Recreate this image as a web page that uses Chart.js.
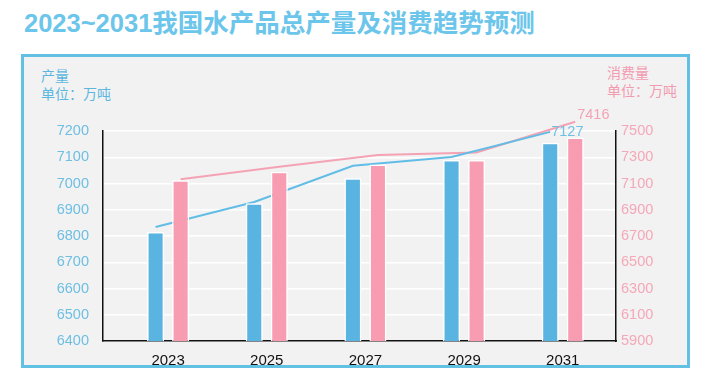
<!DOCTYPE html>
<html>
<head>
<meta charset="utf-8">
<script src="https://cdn.jsdelivr.net/npm/chart.js@4.4.1/dist/chart.umd.min.js"></script>
<style>
  html, body { margin: 0; padding: 0; background: #fff; }
  #wrap { position: relative; width: 702px; height: 377px; overflow: hidden; }
  .title {
    position: absolute; left: 24px; top: 11px;
    font: bold 25.5px/25px "Liberation Sans", "Noto Sans CJK SC", sans-serif;
    color: #6cc5ea; white-space: nowrap;
  }
  .panel {
    position: absolute; left: 21px; top: 54px; width: 669px; height: 314px;
    box-sizing: border-box; border: 3px solid #62c0e2; background: #f2f2f2;
  }
  .unit {
    position: absolute; font: 14px/18px "Noto Sans CJK SC", sans-serif; white-space: nowrap;
  }
  canvas { position: absolute; left: 0; top: 0; }
</style>
</head>
<body>
<div id="wrap">
  <div class="title">2023~2031我国水产品总产量及消费趋势预测</div>
  <div class="panel"></div>
  <div class="unit" style="left:41px; top:66px; color:#5bb7e0;">产量<br>单位：万吨</div>
  <div class="unit" style="left:607px; top:63px; color:#f29bb0;">消费量<br>单位：万吨</div>
  <canvas id="trendChart" width="702" height="377"></canvas>
</div>
<script>
document.addEventListener('DOMContentLoaded', function () {
    "use strict";

    // categories
    var years = ['2023', '2025', '2027', '2029', '2031'];

    // bars: 产量 (left axis), 消费量 (right axis)
    var outputBars = [6815, 6925, 7020, 7090, 7155];
    var consumeBars = [7125, 7190, 7245, 7280, 7450];

    // trend lines (own scales, end values labelled)
    var outputTrend = [6796, 6883, 7009, 7040, 7127];
    var consumeTrend = [7018, 7105, 7186, 7203, 7416];

    var blue = '#59b4e1', pink = '#f89db1';
    var catPct = 0.507;
    var shift = catPct / 4;

    function pts(vals, off) {
        return vals.map(function (v, i) { return { x: i + off, y: v }; });
    }

    var endLabels = {
        id: 'endLabels',
        afterDatasetsDraw: function (chart) {
            var c = chart.ctx;
            chart.data.datasets.forEach(function (ds, i) {
                if (!ds.endLabel) return;
                var meta = chart.getDatasetMeta(i);
                var pt = meta.data[meta.data.length - 1];
                c.save();
                c.font = '14.5px "Liberation Sans", Arial, sans-serif';
                c.fillStyle = ds.endLabel.color;
                c.textAlign = 'left';
                c.textBaseline = 'middle';
                c.fillText(ds.data[ds.data.length - 1].y, pt.x + ds.endLabel.dx, pt.y + ds.endLabel.dy);
                c.restore();
            });
        }
    };

    var plain = function (v) { return String(v); };

    var ctx = document.getElementById('trendChart');
    new Chart(ctx, {
        type: 'bar',
        data: {
            datasets: [{
                label: '产量',
                data: pts(outputBars, 0),
                yAxisID: 'yP',
                backgroundColor: blue,
                borderColor: '#ffffff',
                borderWidth: 1.5,
                borderSkipped: false
            }, {
                label: '消费量',
                data: pts(consumeBars, 0),
                yAxisID: 'yC',
                backgroundColor: pink,
                borderColor: '#ffffff',
                borderWidth: 1.5,
                borderSkipped: false
            }, {
                type: 'line',
                data: pts(outputTrend, -shift),
                yAxisID: 'yPL',
                borderColor: '#62bde6',
                borderWidth: 2,
                pointRadius: 0,
                clip: false,
                endLabel: { color: '#6ec1e4', dx: 1, dy: 0 }
            }, {
                type: 'line',
                data: pts(consumeTrend, shift),
                yAxisID: 'yCL',
                borderColor: '#f4a3b4',
                borderWidth: 2,
                pointRadius: 0,
                clip: false,
                endLabel: { color: '#f4a3b5', dx: 2, dy: -7 }
            }]
        },
        options: {
            responsive: false,
            animation: false,
            categoryPercentage: catPct,
            barPercentage: 0.68,
            layout: { padding: { top: 131, left: 0, right: 0, bottom: 0 } },
            plugins: { legend: { display: false }, tooltip: { enabled: false } },
            scales: {
                x: {
                    type: 'linear',
                    offset: false,
                    bounds: 'data',
                    min: -0.66,
                    max: 4.54,
                    afterBuildTicks: function (s) {
                        s.ticks = years.map(function (_, i) { return { value: i }; });
                    },
                    afterFit: function (s) { s.height = 36; },
                    grid: { display: false, offset: false },
                    border: { color: '#111', width: 1.5 },
                    ticks: {
                        color: '#111',
                        padding: 3,
                        font: { family: '"Liberation Sans", Arial', size: 15 },
                        callback: function (v, i) { return years[i]; }
                    }
                },
                yP: {
                    position: 'left',
                    min: 6400,
                    max: 7200,
                    afterFit: function (s) { s.width = 103; },
                    grid: { color: '#ffffff', lineWidth: 1.5, drawTicks: false },
                    border: { color: '#111', width: 1.5 },
                    ticks: {
                        stepSize: 100,
                        padding: 14,
                        color: '#6dbfe3',
                        font: { family: '"Liberation Sans", Arial', size: 14.5 },
                        callback: plain
                    }
                },
                yC: {
                    position: 'right',
                    min: 5900,
                    max: 7500,
                    afterFit: function (s) { s.width = 86; },
                    grid: { display: false, drawTicks: false },
                    border: { color: '#111', width: 1.5 },
                    ticks: {
                        stepSize: 200,
                        padding: 5,
                        color: '#f5a8b8',
                        font: { family: '"Liberation Sans", Arial', size: 14.5 },
                        callback: plain
                    }
                },
                yPL: { display: false, min: 6400, max: 7130 },
                yCL: { display: false, min: 5900, max: 7352 }
            }
        },
        plugins: [endLabels]
    });
});
</script>
</body>
</html>
